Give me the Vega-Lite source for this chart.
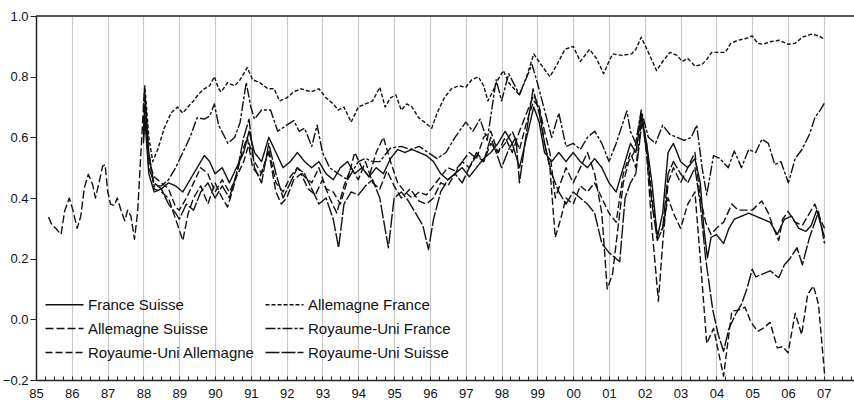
{
  "$schema": "https://vega.github.io/schema/vega-lite/v6.json",
  "width": 819,
  "height": 364,
  "padding": {"left": 2, "top": 10, "right": 0, "bottom": 0},
  "autosize": {"type": "pad"},
  "background": "white",
  "config": {
    "view": {"stroke": null},
    "font": "Liberation Sans",
    "axis": {"labelFont": "Liberation Sans", "labelColor": "#111", "domainColor": "#222", "tickColor": "#222"}
  },
  "datasets": {
    "s": [
      {"s": "Allemagne France", "t": 1988.0, "v": 0.70}, {"s": "Allemagne France", "t": 1988.04, "v": 0.77}, {"s": "Allemagne France", "t": 1988.15, "v": 0.60}, {"s": "Allemagne France", "t": 1988.26, "v": 0.52}, {"s": "Allemagne France", "t": 1988.4, "v": 0.56}, {"s": "Allemagne France", "t": 1988.58, "v": 0.63}, {"s": "Allemagne France", "t": 1988.77, "v": 0.68}, {"s": "Allemagne France", "t": 1988.95, "v": 0.70}, {"s": "Allemagne France", "t": 1989.1, "v": 0.68}, {"s": "Allemagne France", "t": 1989.24, "v": 0.70}, {"s": "Allemagne France", "t": 1989.4, "v": 0.72}, {"s": "Allemagne France", "t": 1989.52, "v": 0.74}, {"s": "Allemagne France", "t": 1989.7, "v": 0.76}, {"s": "Allemagne France", "t": 1989.85, "v": 0.77}, {"s": "Allemagne France", "t": 1989.98, "v": 0.80}, {"s": "Allemagne France", "t": 1990.1, "v": 0.76}, {"s": "Allemagne France", "t": 1990.17, "v": 0.75}, {"s": "Allemagne France", "t": 1990.35, "v": 0.78}, {"s": "Allemagne France", "t": 1990.55, "v": 0.77}, {"s": "Allemagne France", "t": 1990.7, "v": 0.79}, {"s": "Allemagne France", "t": 1990.9, "v": 0.83}, {"s": "Allemagne France", "t": 1991.05, "v": 0.79}, {"s": "Allemagne France", "t": 1991.25, "v": 0.78}, {"s": "Allemagne France", "t": 1991.48, "v": 0.76}, {"s": "Allemagne France", "t": 1991.65, "v": 0.76}, {"s": "Allemagne France", "t": 1991.8, "v": 0.72}, {"s": "Allemagne France", "t": 1992.0, "v": 0.73}, {"s": "Allemagne France", "t": 1992.2, "v": 0.75}, {"s": "Allemagne France", "t": 1992.4, "v": 0.76}, {"s": "Allemagne France", "t": 1992.69, "v": 0.75}, {"s": "Allemagne France", "t": 1992.9, "v": 0.76}, {"s": "Allemagne France", "t": 1993.1, "v": 0.73}, {"s": "Allemagne France", "t": 1993.3, "v": 0.71}, {"s": "Allemagne France", "t": 1993.44, "v": 0.69}, {"s": "Allemagne France", "t": 1993.6, "v": 0.70}, {"s": "Allemagne France", "t": 1993.8, "v": 0.65}, {"s": "Allemagne France", "t": 1994.0, "v": 0.70}, {"s": "Allemagne France", "t": 1994.2, "v": 0.71}, {"s": "Allemagne France", "t": 1994.4, "v": 0.72}, {"s": "Allemagne France", "t": 1994.6, "v": 0.765}, {"s": "Allemagne France", "t": 1994.75, "v": 0.70}, {"s": "Allemagne France", "t": 1994.9, "v": 0.73}, {"s": "Allemagne France", "t": 1995.05, "v": 0.74}, {"s": "Allemagne France", "t": 1995.2, "v": 0.69}, {"s": "Allemagne France", "t": 1995.35, "v": 0.71}, {"s": "Allemagne France", "t": 1995.5, "v": 0.70}, {"s": "Allemagne France", "t": 1995.68, "v": 0.665}, {"s": "Allemagne France", "t": 1995.85, "v": 0.65}, {"s": "Allemagne France", "t": 1996.05, "v": 0.63}, {"s": "Allemagne France", "t": 1996.2, "v": 0.68}, {"s": "Allemagne France", "t": 1996.4, "v": 0.73}, {"s": "Allemagne France", "t": 1996.6, "v": 0.76}, {"s": "Allemagne France", "t": 1996.8, "v": 0.77}, {"s": "Allemagne France", "t": 1997.0, "v": 0.765}, {"s": "Allemagne France", "t": 1997.17, "v": 0.79}, {"s": "Allemagne France", "t": 1997.35, "v": 0.80}, {"s": "Allemagne France", "t": 1997.5, "v": 0.77}, {"s": "Allemagne France", "t": 1997.62, "v": 0.72}, {"s": "Allemagne France", "t": 1997.75, "v": 0.75}, {"s": "Allemagne France", "t": 1997.9, "v": 0.79}, {"s": "Allemagne France", "t": 1998.05, "v": 0.82}, {"s": "Allemagne France", "t": 1998.2, "v": 0.78}, {"s": "Allemagne France", "t": 1998.35, "v": 0.76}, {"s": "Allemagne France", "t": 1998.5, "v": 0.74}, {"s": "Allemagne France", "t": 1998.7, "v": 0.80}, {"s": "Allemagne France", "t": 1998.9, "v": 0.875}, {"s": "Allemagne France", "t": 1999.1, "v": 0.84}, {"s": "Allemagne France", "t": 1999.35, "v": 0.80}, {"s": "Allemagne France", "t": 1999.55, "v": 0.84}, {"s": "Allemagne France", "t": 1999.77, "v": 0.89}, {"s": "Allemagne France", "t": 2000.0, "v": 0.90}, {"s": "Allemagne France", "t": 2000.2, "v": 0.85}, {"s": "Allemagne France", "t": 2000.46, "v": 0.89}, {"s": "Allemagne France", "t": 2000.65, "v": 0.86}, {"s": "Allemagne France", "t": 2000.85, "v": 0.81}, {"s": "Allemagne France", "t": 2001.0, "v": 0.85}, {"s": "Allemagne France", "t": 2001.1, "v": 0.875}, {"s": "Allemagne France", "t": 2001.35, "v": 0.87}, {"s": "Allemagne France", "t": 2001.63, "v": 0.875}, {"s": "Allemagne France", "t": 2001.75, "v": 0.89}, {"s": "Allemagne France", "t": 2001.9, "v": 0.93}, {"s": "Allemagne France", "t": 2002.1, "v": 0.88}, {"s": "Allemagne France", "t": 2002.33, "v": 0.82}, {"s": "Allemagne France", "t": 2002.5, "v": 0.85}, {"s": "Allemagne France", "t": 2002.7, "v": 0.88}, {"s": "Allemagne France", "t": 2002.9, "v": 0.87}, {"s": "Allemagne France", "t": 2003.05, "v": 0.85}, {"s": "Allemagne France", "t": 2003.2, "v": 0.86}, {"s": "Allemagne France", "t": 2003.4, "v": 0.835}, {"s": "Allemagne France", "t": 2003.6, "v": 0.84}, {"s": "Allemagne France", "t": 2003.75, "v": 0.86}, {"s": "Allemagne France", "t": 2003.87, "v": 0.88}, {"s": "Allemagne France", "t": 2004.05, "v": 0.88}, {"s": "Allemagne France", "t": 2004.25, "v": 0.88}, {"s": "Allemagne France", "t": 2004.4, "v": 0.91}, {"s": "Allemagne France", "t": 2004.6, "v": 0.92}, {"s": "Allemagne France", "t": 2004.8, "v": 0.925}, {"s": "Allemagne France", "t": 2005.0, "v": 0.934}, {"s": "Allemagne France", "t": 2005.15, "v": 0.91}, {"s": "Allemagne France", "t": 2005.3, "v": 0.907}, {"s": "Allemagne France", "t": 2005.5, "v": 0.915}, {"s": "Allemagne France", "t": 2005.75, "v": 0.92}, {"s": "Allemagne France", "t": 2006.0, "v": 0.907}, {"s": "Allemagne France", "t": 2006.2, "v": 0.91}, {"s": "Allemagne France", "t": 2006.4, "v": 0.93}, {"s": "Allemagne France", "t": 2006.65, "v": 0.94}, {"s": "Allemagne France", "t": 2006.85, "v": 0.935}, {"s": "Allemagne France", "t": 2007.02, "v": 0.923},

      {"s": "Royaume-Uni France", "t": 1988.0, "v": 0.62}, {"s": "Royaume-Uni France", "t": 1988.04, "v": 0.72}, {"s": "Royaume-Uni France", "t": 1988.15, "v": 0.55}, {"s": "Royaume-Uni France", "t": 1988.3, "v": 0.44}, {"s": "Royaume-Uni France", "t": 1988.5, "v": 0.44}, {"s": "Royaume-Uni France", "t": 1988.7, "v": 0.46}, {"s": "Royaume-Uni France", "t": 1988.9, "v": 0.50}, {"s": "Royaume-Uni France", "t": 1989.1, "v": 0.55}, {"s": "Royaume-Uni France", "t": 1989.3, "v": 0.60}, {"s": "Royaume-Uni France", "t": 1989.5, "v": 0.665}, {"s": "Royaume-Uni France", "t": 1989.7, "v": 0.66}, {"s": "Royaume-Uni France", "t": 1989.85, "v": 0.67}, {"s": "Royaume-Uni France", "t": 1989.98, "v": 0.71}, {"s": "Royaume-Uni France", "t": 1990.1, "v": 0.64}, {"s": "Royaume-Uni France", "t": 1990.36, "v": 0.58}, {"s": "Royaume-Uni France", "t": 1990.55, "v": 0.60}, {"s": "Royaume-Uni France", "t": 1990.7, "v": 0.65}, {"s": "Royaume-Uni France", "t": 1990.87, "v": 0.78}, {"s": "Royaume-Uni France", "t": 1991.0, "v": 0.70}, {"s": "Royaume-Uni France", "t": 1991.1, "v": 0.66}, {"s": "Royaume-Uni France", "t": 1991.3, "v": 0.69}, {"s": "Royaume-Uni France", "t": 1991.55, "v": 0.69}, {"s": "Royaume-Uni France", "t": 1991.75, "v": 0.62}, {"s": "Royaume-Uni France", "t": 1992.0, "v": 0.64}, {"s": "Royaume-Uni France", "t": 1992.2, "v": 0.655}, {"s": "Royaume-Uni France", "t": 1992.35, "v": 0.62}, {"s": "Royaume-Uni France", "t": 1992.5, "v": 0.63}, {"s": "Royaume-Uni France", "t": 1992.7, "v": 0.57}, {"s": "Royaume-Uni France", "t": 1992.85, "v": 0.64}, {"s": "Royaume-Uni France", "t": 1993.0, "v": 0.55}, {"s": "Royaume-Uni France", "t": 1993.2, "v": 0.50}, {"s": "Royaume-Uni France", "t": 1993.44, "v": 0.48}, {"s": "Royaume-Uni France", "t": 1993.7, "v": 0.46}, {"s": "Royaume-Uni France", "t": 1994.0, "v": 0.52}, {"s": "Royaume-Uni France", "t": 1994.2, "v": 0.53}, {"s": "Royaume-Uni France", "t": 1994.4, "v": 0.52}, {"s": "Royaume-Uni France", "t": 1994.6, "v": 0.52}, {"s": "Royaume-Uni France", "t": 1994.9, "v": 0.565}, {"s": "Royaume-Uni France", "t": 1995.2, "v": 0.57}, {"s": "Royaume-Uni France", "t": 1995.45, "v": 0.56}, {"s": "Royaume-Uni France", "t": 1995.7, "v": 0.57}, {"s": "Royaume-Uni France", "t": 1995.95, "v": 0.55}, {"s": "Royaume-Uni France", "t": 1996.2, "v": 0.53}, {"s": "Royaume-Uni France", "t": 1996.45, "v": 0.55}, {"s": "Royaume-Uni France", "t": 1996.7, "v": 0.60}, {"s": "Royaume-Uni France", "t": 1997.0, "v": 0.65}, {"s": "Royaume-Uni France", "t": 1997.2, "v": 0.62}, {"s": "Royaume-Uni France", "t": 1997.4, "v": 0.66}, {"s": "Royaume-Uni France", "t": 1997.6, "v": 0.59}, {"s": "Royaume-Uni France", "t": 1997.85, "v": 0.79}, {"s": "Royaume-Uni France", "t": 1998.0, "v": 0.72}, {"s": "Royaume-Uni France", "t": 1998.2, "v": 0.81}, {"s": "Royaume-Uni France", "t": 1998.5, "v": 0.74}, {"s": "Royaume-Uni France", "t": 1998.85, "v": 0.84}, {"s": "Royaume-Uni France", "t": 1999.0, "v": 0.78}, {"s": "Royaume-Uni France", "t": 1999.2, "v": 0.69}, {"s": "Royaume-Uni France", "t": 1999.4, "v": 0.60}, {"s": "Royaume-Uni France", "t": 1999.6, "v": 0.68}, {"s": "Royaume-Uni France", "t": 1999.8, "v": 0.57}, {"s": "Royaume-Uni France", "t": 2000.0, "v": 0.58}, {"s": "Royaume-Uni France", "t": 2000.2, "v": 0.56}, {"s": "Royaume-Uni France", "t": 2000.4, "v": 0.60}, {"s": "Royaume-Uni France", "t": 2000.6, "v": 0.62}, {"s": "Royaume-Uni France", "t": 2000.8, "v": 0.58}, {"s": "Royaume-Uni France", "t": 2001.0, "v": 0.52}, {"s": "Royaume-Uni France", "t": 2001.2, "v": 0.58}, {"s": "Royaume-Uni France", "t": 2001.5, "v": 0.687}, {"s": "Royaume-Uni France", "t": 2001.6, "v": 0.62}, {"s": "Royaume-Uni France", "t": 2001.75, "v": 0.58}, {"s": "Royaume-Uni France", "t": 2001.9, "v": 0.69}, {"s": "Royaume-Uni France", "t": 2002.1, "v": 0.60}, {"s": "Royaume-Uni France", "t": 2002.3, "v": 0.58}, {"s": "Royaume-Uni France", "t": 2002.5, "v": 0.64}, {"s": "Royaume-Uni France", "t": 2002.7, "v": 0.61}, {"s": "Royaume-Uni France", "t": 2002.9, "v": 0.60}, {"s": "Royaume-Uni France", "t": 2003.1, "v": 0.59}, {"s": "Royaume-Uni France", "t": 2003.3, "v": 0.60}, {"s": "Royaume-Uni France", "t": 2003.45, "v": 0.64}, {"s": "Royaume-Uni France", "t": 2003.6, "v": 0.50}, {"s": "Royaume-Uni France", "t": 2003.73, "v": 0.41}, {"s": "Royaume-Uni France", "t": 2003.92, "v": 0.54}, {"s": "Royaume-Uni France", "t": 2004.1, "v": 0.53}, {"s": "Royaume-Uni France", "t": 2004.33, "v": 0.50}, {"s": "Royaume-Uni France", "t": 2004.5, "v": 0.555}, {"s": "Royaume-Uni France", "t": 2004.7, "v": 0.50}, {"s": "Royaume-Uni France", "t": 2004.9, "v": 0.56}, {"s": "Royaume-Uni France", "t": 2005.1, "v": 0.55}, {"s": "Royaume-Uni France", "t": 2005.27, "v": 0.594}, {"s": "Royaume-Uni France", "t": 2005.45, "v": 0.58}, {"s": "Royaume-Uni France", "t": 2005.63, "v": 0.51}, {"s": "Royaume-Uni France", "t": 2005.8, "v": 0.52}, {"s": "Royaume-Uni France", "t": 2006.01, "v": 0.45}, {"s": "Royaume-Uni France", "t": 2006.2, "v": 0.53}, {"s": "Royaume-Uni France", "t": 2006.39, "v": 0.56}, {"s": "Royaume-Uni France", "t": 2006.6, "v": 0.61}, {"s": "Royaume-Uni France", "t": 2006.75, "v": 0.665}, {"s": "Royaume-Uni France", "t": 2006.9, "v": 0.69}, {"s": "Royaume-Uni France", "t": 2007.02, "v": 0.714},

      {"s": "Allemagne Suisse", "t": 1985.35, "v": 0.337}, {"s": "Allemagne Suisse", "t": 1985.45, "v": 0.31}, {"s": "Allemagne Suisse", "t": 1985.55, "v": 0.30}, {"s": "Allemagne Suisse", "t": 1985.7, "v": 0.28}, {"s": "Allemagne Suisse", "t": 1985.8, "v": 0.357}, {"s": "Allemagne Suisse", "t": 1985.93, "v": 0.40}, {"s": "Allemagne Suisse", "t": 1986.03, "v": 0.36}, {"s": "Allemagne Suisse", "t": 1986.15, "v": 0.30}, {"s": "Allemagne Suisse", "t": 1986.25, "v": 0.34}, {"s": "Allemagne Suisse", "t": 1986.35, "v": 0.434}, {"s": "Allemagne Suisse", "t": 1986.46, "v": 0.478}, {"s": "Allemagne Suisse", "t": 1986.58, "v": 0.445}, {"s": "Allemagne Suisse", "t": 1986.66, "v": 0.40}, {"s": "Allemagne Suisse", "t": 1986.77, "v": 0.456}, {"s": "Allemagne Suisse", "t": 1986.86, "v": 0.505}, {"s": "Allemagne Suisse", "t": 1986.93, "v": 0.51}, {"s": "Allemagne Suisse", "t": 1987.0, "v": 0.423}, {"s": "Allemagne Suisse", "t": 1987.08, "v": 0.38}, {"s": "Allemagne Suisse", "t": 1987.19, "v": 0.375}, {"s": "Allemagne Suisse", "t": 1987.27, "v": 0.40}, {"s": "Allemagne Suisse", "t": 1987.38, "v": 0.357}, {"s": "Allemagne Suisse", "t": 1987.48, "v": 0.325}, {"s": "Allemagne Suisse", "t": 1987.56, "v": 0.36}, {"s": "Allemagne Suisse", "t": 1987.65, "v": 0.34}, {"s": "Allemagne Suisse", "t": 1987.75, "v": 0.264}, {"s": "Allemagne Suisse", "t": 1987.84, "v": 0.357}, {"s": "Allemagne Suisse", "t": 1987.92, "v": 0.53}, {"s": "Allemagne Suisse", "t": 1988.03, "v": 0.76}, {"s": "Allemagne Suisse", "t": 1988.15, "v": 0.55}, {"s": "Allemagne Suisse", "t": 1988.3, "v": 0.43}, {"s": "Allemagne Suisse", "t": 1988.5, "v": 0.42}, {"s": "Allemagne Suisse", "t": 1988.7, "v": 0.40}, {"s": "Allemagne Suisse", "t": 1988.9, "v": 0.33}, {"s": "Allemagne Suisse", "t": 1989.1, "v": 0.26}, {"s": "Allemagne Suisse", "t": 1989.25, "v": 0.35}, {"s": "Allemagne Suisse", "t": 1989.4, "v": 0.40}, {"s": "Allemagne Suisse", "t": 1989.6, "v": 0.44}, {"s": "Allemagne Suisse", "t": 1989.8, "v": 0.38}, {"s": "Allemagne Suisse", "t": 1990.0, "v": 0.45}, {"s": "Allemagne Suisse", "t": 1990.2, "v": 0.40}, {"s": "Allemagne Suisse", "t": 1990.35, "v": 0.37}, {"s": "Allemagne Suisse", "t": 1990.55, "v": 0.45}, {"s": "Allemagne Suisse", "t": 1990.75, "v": 0.55}, {"s": "Allemagne Suisse", "t": 1990.9, "v": 0.60}, {"s": "Allemagne Suisse", "t": 1991.05, "v": 0.50}, {"s": "Allemagne Suisse", "t": 1991.25, "v": 0.47}, {"s": "Allemagne Suisse", "t": 1991.5, "v": 0.55}, {"s": "Allemagne Suisse", "t": 1991.7, "v": 0.42}, {"s": "Allemagne Suisse", "t": 1991.85, "v": 0.38}, {"s": "Allemagne Suisse", "t": 1992.0, "v": 0.40}, {"s": "Allemagne Suisse", "t": 1992.2, "v": 0.46}, {"s": "Allemagne Suisse", "t": 1992.4, "v": 0.48}, {"s": "Allemagne Suisse", "t": 1992.6, "v": 0.43}, {"s": "Allemagne Suisse", "t": 1992.8, "v": 0.41}, {"s": "Allemagne Suisse", "t": 1993.0, "v": 0.46}, {"s": "Allemagne Suisse", "t": 1993.2, "v": 0.40}, {"s": "Allemagne Suisse", "t": 1993.4, "v": 0.35}, {"s": "Allemagne Suisse", "t": 1993.6, "v": 0.44}, {"s": "Allemagne Suisse", "t": 1993.8, "v": 0.50}, {"s": "Allemagne Suisse", "t": 1994.0, "v": 0.46}, {"s": "Allemagne Suisse", "t": 1994.2, "v": 0.52}, {"s": "Allemagne Suisse", "t": 1994.4, "v": 0.45}, {"s": "Allemagne Suisse", "t": 1994.6, "v": 0.43}, {"s": "Allemagne Suisse", "t": 1994.8, "v": 0.49}, {"s": "Allemagne Suisse", "t": 1995.0, "v": 0.44}, {"s": "Allemagne Suisse", "t": 1995.2, "v": 0.40}, {"s": "Allemagne Suisse", "t": 1995.45, "v": 0.43}, {"s": "Allemagne Suisse", "t": 1995.7, "v": 0.39}, {"s": "Allemagne Suisse", "t": 1995.9, "v": 0.38}, {"s": "Allemagne Suisse", "t": 1996.1, "v": 0.40}, {"s": "Allemagne Suisse", "t": 1996.3, "v": 0.45}, {"s": "Allemagne Suisse", "t": 1996.5, "v": 0.44}, {"s": "Allemagne Suisse", "t": 1996.7, "v": 0.48}, {"s": "Allemagne Suisse", "t": 1996.9, "v": 0.52}, {"s": "Allemagne Suisse", "t": 1997.1, "v": 0.50}, {"s": "Allemagne Suisse", "t": 1997.3, "v": 0.54}, {"s": "Allemagne Suisse", "t": 1997.5, "v": 0.52}, {"s": "Allemagne Suisse", "t": 1997.7, "v": 0.58}, {"s": "Allemagne Suisse", "t": 1997.9, "v": 0.55}, {"s": "Allemagne Suisse", "t": 1998.1, "v": 0.60}, {"s": "Allemagne Suisse", "t": 1998.3, "v": 0.55}, {"s": "Allemagne Suisse", "t": 1998.5, "v": 0.62}, {"s": "Allemagne Suisse", "t": 1998.7, "v": 0.68}, {"s": "Allemagne Suisse", "t": 1998.9, "v": 0.74}, {"s": "Allemagne Suisse", "t": 1999.05, "v": 0.70}, {"s": "Allemagne Suisse", "t": 1999.2, "v": 0.62}, {"s": "Allemagne Suisse", "t": 1999.35, "v": 0.55}, {"s": "Allemagne Suisse", "t": 1999.5, "v": 0.40}, {"s": "Allemagne Suisse", "t": 1999.65, "v": 0.45}, {"s": "Allemagne Suisse", "t": 1999.8, "v": 0.50}, {"s": "Allemagne Suisse", "t": 2000.0, "v": 0.45}, {"s": "Allemagne Suisse", "t": 2000.2, "v": 0.50}, {"s": "Allemagne Suisse", "t": 2000.4, "v": 0.55}, {"s": "Allemagne Suisse", "t": 2000.6, "v": 0.48}, {"s": "Allemagne Suisse", "t": 2000.8, "v": 0.35}, {"s": "Allemagne Suisse", "t": 2000.95, "v": 0.10}, {"s": "Allemagne Suisse", "t": 2001.1, "v": 0.15}, {"s": "Allemagne Suisse", "t": 2001.25, "v": 0.30}, {"s": "Allemagne Suisse", "t": 2001.4, "v": 0.45}, {"s": "Allemagne Suisse", "t": 2001.55, "v": 0.52}, {"s": "Allemagne Suisse", "t": 2001.7, "v": 0.55}, {"s": "Allemagne Suisse", "t": 2001.9, "v": 0.68}, {"s": "Allemagne Suisse", "t": 2002.05, "v": 0.55}, {"s": "Allemagne Suisse", "t": 2002.2, "v": 0.30}, {"s": "Allemagne Suisse", "t": 2002.38, "v": 0.06}, {"s": "Allemagne Suisse", "t": 2002.5, "v": 0.25}, {"s": "Allemagne Suisse", "t": 2002.65, "v": 0.45}, {"s": "Allemagne Suisse", "t": 2002.8, "v": 0.50}, {"s": "Allemagne Suisse", "t": 2003.0, "v": 0.45}, {"s": "Allemagne Suisse", "t": 2003.2, "v": 0.50}, {"s": "Allemagne Suisse", "t": 2003.4, "v": 0.55}, {"s": "Allemagne Suisse", "t": 2003.55, "v": 0.40}, {"s": "Allemagne Suisse", "t": 2003.7, "v": 0.32}, {"s": "Allemagne Suisse", "t": 2003.85, "v": 0.28}, {"s": "Allemagne Suisse", "t": 2004.0, "v": 0.30}, {"s": "Allemagne Suisse", "t": 2004.2, "v": 0.32}, {"s": "Allemagne Suisse", "t": 2004.43, "v": 0.38}, {"s": "Allemagne Suisse", "t": 2004.6, "v": 0.36}, {"s": "Allemagne Suisse", "t": 2004.8, "v": 0.36}, {"s": "Allemagne Suisse", "t": 2005.0, "v": 0.36}, {"s": "Allemagne Suisse", "t": 2005.27, "v": 0.39}, {"s": "Allemagne Suisse", "t": 2005.45, "v": 0.35}, {"s": "Allemagne Suisse", "t": 2005.6, "v": 0.30}, {"s": "Allemagne Suisse", "t": 2005.74, "v": 0.26}, {"s": "Allemagne Suisse", "t": 2005.85, "v": 0.33}, {"s": "Allemagne Suisse", "t": 2006.0, "v": 0.356}, {"s": "Allemagne Suisse", "t": 2006.2, "v": 0.32}, {"s": "Allemagne Suisse", "t": 2006.4, "v": 0.31}, {"s": "Allemagne Suisse", "t": 2006.6, "v": 0.35}, {"s": "Allemagne Suisse", "t": 2006.75, "v": 0.38}, {"s": "Allemagne Suisse", "t": 2006.9, "v": 0.33}, {"s": "Allemagne Suisse", "t": 2007.02, "v": 0.30},

      {"s": "Royaume-Uni Allemagne", "t": 1988.0, "v": 0.65}, {"s": "Royaume-Uni Allemagne", "t": 1988.04, "v": 0.74}, {"s": "Royaume-Uni Allemagne", "t": 1988.15, "v": 0.52}, {"s": "Royaume-Uni Allemagne", "t": 1988.3, "v": 0.47}, {"s": "Royaume-Uni Allemagne", "t": 1988.5, "v": 0.45}, {"s": "Royaume-Uni Allemagne", "t": 1988.7, "v": 0.43}, {"s": "Royaume-Uni Allemagne", "t": 1988.9, "v": 0.37}, {"s": "Royaume-Uni Allemagne", "t": 1989.0, "v": 0.36}, {"s": "Royaume-Uni Allemagne", "t": 1989.2, "v": 0.40}, {"s": "Royaume-Uni Allemagne", "t": 1989.4, "v": 0.45}, {"s": "Royaume-Uni Allemagne", "t": 1989.6, "v": 0.50}, {"s": "Royaume-Uni Allemagne", "t": 1989.8, "v": 0.48}, {"s": "Royaume-Uni Allemagne", "t": 1990.0, "v": 0.42}, {"s": "Royaume-Uni Allemagne", "t": 1990.2, "v": 0.46}, {"s": "Royaume-Uni Allemagne", "t": 1990.4, "v": 0.42}, {"s": "Royaume-Uni Allemagne", "t": 1990.6, "v": 0.47}, {"s": "Royaume-Uni Allemagne", "t": 1990.8, "v": 0.52}, {"s": "Royaume-Uni Allemagne", "t": 1990.95, "v": 0.58}, {"s": "Royaume-Uni Allemagne", "t": 1991.1, "v": 0.52}, {"s": "Royaume-Uni Allemagne", "t": 1991.3, "v": 0.48}, {"s": "Royaume-Uni Allemagne", "t": 1991.5, "v": 0.56}, {"s": "Royaume-Uni Allemagne", "t": 1991.7, "v": 0.45}, {"s": "Royaume-Uni Allemagne", "t": 1991.9, "v": 0.42}, {"s": "Royaume-Uni Allemagne", "t": 1992.1, "v": 0.47}, {"s": "Royaume-Uni Allemagne", "t": 1992.3, "v": 0.50}, {"s": "Royaume-Uni Allemagne", "t": 1992.5, "v": 0.47}, {"s": "Royaume-Uni Allemagne", "t": 1992.7, "v": 0.45}, {"s": "Royaume-Uni Allemagne", "t": 1992.9, "v": 0.50}, {"s": "Royaume-Uni Allemagne", "t": 1993.1, "v": 0.43}, {"s": "Royaume-Uni Allemagne", "t": 1993.3, "v": 0.42}, {"s": "Royaume-Uni Allemagne", "t": 1993.5, "v": 0.38}, {"s": "Royaume-Uni Allemagne", "t": 1993.7, "v": 0.46}, {"s": "Royaume-Uni Allemagne", "t": 1993.9, "v": 0.55}, {"s": "Royaume-Uni Allemagne", "t": 1994.1, "v": 0.50}, {"s": "Royaume-Uni Allemagne", "t": 1994.3, "v": 0.47}, {"s": "Royaume-Uni Allemagne", "t": 1994.5, "v": 0.55}, {"s": "Royaume-Uni Allemagne", "t": 1994.7, "v": 0.60}, {"s": "Royaume-Uni Allemagne", "t": 1994.9, "v": 0.52}, {"s": "Royaume-Uni Allemagne", "t": 1995.1, "v": 0.45}, {"s": "Royaume-Uni Allemagne", "t": 1995.3, "v": 0.42}, {"s": "Royaume-Uni Allemagne", "t": 1995.5, "v": 0.40}, {"s": "Royaume-Uni Allemagne", "t": 1995.7, "v": 0.42}, {"s": "Royaume-Uni Allemagne", "t": 1995.9, "v": 0.41}, {"s": "Royaume-Uni Allemagne", "t": 1996.1, "v": 0.44}, {"s": "Royaume-Uni Allemagne", "t": 1996.3, "v": 0.47}, {"s": "Royaume-Uni Allemagne", "t": 1996.5, "v": 0.50}, {"s": "Royaume-Uni Allemagne", "t": 1996.7, "v": 0.49}, {"s": "Royaume-Uni Allemagne", "t": 1996.9, "v": 0.52}, {"s": "Royaume-Uni Allemagne", "t": 1997.1, "v": 0.55}, {"s": "Royaume-Uni Allemagne", "t": 1997.3, "v": 0.53}, {"s": "Royaume-Uni Allemagne", "t": 1997.5, "v": 0.60}, {"s": "Royaume-Uni Allemagne", "t": 1997.7, "v": 0.62}, {"s": "Royaume-Uni Allemagne", "t": 1997.9, "v": 0.55}, {"s": "Royaume-Uni Allemagne", "t": 1998.1, "v": 0.58}, {"s": "Royaume-Uni Allemagne", "t": 1998.3, "v": 0.62}, {"s": "Royaume-Uni Allemagne", "t": 1998.5, "v": 0.56}, {"s": "Royaume-Uni Allemagne", "t": 1998.7, "v": 0.65}, {"s": "Royaume-Uni Allemagne", "t": 1998.9, "v": 0.72}, {"s": "Royaume-Uni Allemagne", "t": 1999.05, "v": 0.70}, {"s": "Royaume-Uni Allemagne", "t": 1999.2, "v": 0.58}, {"s": "Royaume-Uni Allemagne", "t": 1999.35, "v": 0.50}, {"s": "Royaume-Uni Allemagne", "t": 1999.5, "v": 0.27}, {"s": "Royaume-Uni Allemagne", "t": 1999.65, "v": 0.33}, {"s": "Royaume-Uni Allemagne", "t": 1999.8, "v": 0.40}, {"s": "Royaume-Uni Allemagne", "t": 2000.0, "v": 0.38}, {"s": "Royaume-Uni Allemagne", "t": 2000.2, "v": 0.44}, {"s": "Royaume-Uni Allemagne", "t": 2000.4, "v": 0.42}, {"s": "Royaume-Uni Allemagne", "t": 2000.6, "v": 0.45}, {"s": "Royaume-Uni Allemagne", "t": 2000.8, "v": 0.40}, {"s": "Royaume-Uni Allemagne", "t": 2001.0, "v": 0.35}, {"s": "Royaume-Uni Allemagne", "t": 2001.2, "v": 0.32}, {"s": "Royaume-Uni Allemagne", "t": 2001.4, "v": 0.48}, {"s": "Royaume-Uni Allemagne", "t": 2001.6, "v": 0.55}, {"s": "Royaume-Uni Allemagne", "t": 2001.75, "v": 0.50}, {"s": "Royaume-Uni Allemagne", "t": 2001.92, "v": 0.67}, {"s": "Royaume-Uni Allemagne", "t": 2002.05, "v": 0.58}, {"s": "Royaume-Uni Allemagne", "t": 2002.2, "v": 0.40}, {"s": "Royaume-Uni Allemagne", "t": 2002.35, "v": 0.28}, {"s": "Royaume-Uni Allemagne", "t": 2002.5, "v": 0.30}, {"s": "Royaume-Uni Allemagne", "t": 2002.65, "v": 0.40}, {"s": "Royaume-Uni Allemagne", "t": 2002.8, "v": 0.35}, {"s": "Royaume-Uni Allemagne", "t": 2003.0, "v": 0.30}, {"s": "Royaume-Uni Allemagne", "t": 2003.2, "v": 0.38}, {"s": "Royaume-Uni Allemagne", "t": 2003.4, "v": 0.42}, {"s": "Royaume-Uni Allemagne", "t": 2003.55, "v": 0.20}, {"s": "Royaume-Uni Allemagne", "t": 2003.73, "v": -0.08}, {"s": "Royaume-Uni Allemagne", "t": 2003.92, "v": -0.03}, {"s": "Royaume-Uni Allemagne", "t": 2004.2, "v": -0.187}, {"s": "Royaume-Uni Allemagne", "t": 2004.43, "v": 0.027}, {"s": "Royaume-Uni Allemagne", "t": 2004.6, "v": 0.03}, {"s": "Royaume-Uni Allemagne", "t": 2004.8, "v": 0.04}, {"s": "Royaume-Uni Allemagne", "t": 2004.95, "v": -0.006}, {"s": "Royaume-Uni Allemagne", "t": 2005.15, "v": -0.04}, {"s": "Royaume-Uni Allemagne", "t": 2005.3, "v": -0.03}, {"s": "Royaume-Uni Allemagne", "t": 2005.5, "v": -0.01}, {"s": "Royaume-Uni Allemagne", "t": 2005.7, "v": -0.094}, {"s": "Royaume-Uni Allemagne", "t": 2005.85, "v": -0.09}, {"s": "Royaume-Uni Allemagne", "t": 2006.0, "v": -0.11}, {"s": "Royaume-Uni Allemagne", "t": 2006.2, "v": 0.02}, {"s": "Royaume-Uni Allemagne", "t": 2006.38, "v": -0.05}, {"s": "Royaume-Uni Allemagne", "t": 2006.55, "v": 0.083}, {"s": "Royaume-Uni Allemagne", "t": 2006.71, "v": 0.11}, {"s": "Royaume-Uni Allemagne", "t": 2006.85, "v": 0.05}, {"s": "Royaume-Uni Allemagne", "t": 2007.02, "v": -0.18},

      {"s": "Royaume-Uni Suisse", "t": 1988.0, "v": 0.60}, {"s": "Royaume-Uni Suisse", "t": 1988.04, "v": 0.68}, {"s": "Royaume-Uni Suisse", "t": 1988.15, "v": 0.50}, {"s": "Royaume-Uni Suisse", "t": 1988.3, "v": 0.45}, {"s": "Royaume-Uni Suisse", "t": 1988.5, "v": 0.43}, {"s": "Royaume-Uni Suisse", "t": 1988.7, "v": 0.38}, {"s": "Royaume-Uni Suisse", "t": 1988.9, "v": 0.35}, {"s": "Royaume-Uni Suisse", "t": 1989.0, "v": 0.33}, {"s": "Royaume-Uni Suisse", "t": 1989.2, "v": 0.38}, {"s": "Royaume-Uni Suisse", "t": 1989.4, "v": 0.36}, {"s": "Royaume-Uni Suisse", "t": 1989.6, "v": 0.42}, {"s": "Royaume-Uni Suisse", "t": 1989.8, "v": 0.45}, {"s": "Royaume-Uni Suisse", "t": 1990.0, "v": 0.40}, {"s": "Royaume-Uni Suisse", "t": 1990.2, "v": 0.44}, {"s": "Royaume-Uni Suisse", "t": 1990.4, "v": 0.40}, {"s": "Royaume-Uni Suisse", "t": 1990.6, "v": 0.48}, {"s": "Royaume-Uni Suisse", "t": 1990.8, "v": 0.60}, {"s": "Royaume-Uni Suisse", "t": 1990.95, "v": 0.66}, {"s": "Royaume-Uni Suisse", "t": 1991.1, "v": 0.50}, {"s": "Royaume-Uni Suisse", "t": 1991.3, "v": 0.45}, {"s": "Royaume-Uni Suisse", "t": 1991.5, "v": 0.58}, {"s": "Royaume-Uni Suisse", "t": 1991.7, "v": 0.48}, {"s": "Royaume-Uni Suisse", "t": 1991.9, "v": 0.40}, {"s": "Royaume-Uni Suisse", "t": 1992.1, "v": 0.45}, {"s": "Royaume-Uni Suisse", "t": 1992.3, "v": 0.50}, {"s": "Royaume-Uni Suisse", "t": 1992.5, "v": 0.48}, {"s": "Royaume-Uni Suisse", "t": 1992.7, "v": 0.43}, {"s": "Royaume-Uni Suisse", "t": 1992.9, "v": 0.38}, {"s": "Royaume-Uni Suisse", "t": 1993.1, "v": 0.40}, {"s": "Royaume-Uni Suisse", "t": 1993.3, "v": 0.33}, {"s": "Royaume-Uni Suisse", "t": 1993.45, "v": 0.236}, {"s": "Royaume-Uni Suisse", "t": 1993.6, "v": 0.38}, {"s": "Royaume-Uni Suisse", "t": 1993.8, "v": 0.42}, {"s": "Royaume-Uni Suisse", "t": 1994.0, "v": 0.41}, {"s": "Royaume-Uni Suisse", "t": 1994.2, "v": 0.44}, {"s": "Royaume-Uni Suisse", "t": 1994.4, "v": 0.46}, {"s": "Royaume-Uni Suisse", "t": 1994.6, "v": 0.40}, {"s": "Royaume-Uni Suisse", "t": 1994.84, "v": 0.236}, {"s": "Royaume-Uni Suisse", "t": 1995.0, "v": 0.40}, {"s": "Royaume-Uni Suisse", "t": 1995.2, "v": 0.42}, {"s": "Royaume-Uni Suisse", "t": 1995.4, "v": 0.39}, {"s": "Royaume-Uni Suisse", "t": 1995.6, "v": 0.35}, {"s": "Royaume-Uni Suisse", "t": 1995.8, "v": 0.31}, {"s": "Royaume-Uni Suisse", "t": 1995.96, "v": 0.23}, {"s": "Royaume-Uni Suisse", "t": 1996.1, "v": 0.33}, {"s": "Royaume-Uni Suisse", "t": 1996.3, "v": 0.42}, {"s": "Royaume-Uni Suisse", "t": 1996.5, "v": 0.46}, {"s": "Royaume-Uni Suisse", "t": 1996.7, "v": 0.48}, {"s": "Royaume-Uni Suisse", "t": 1996.9, "v": 0.45}, {"s": "Royaume-Uni Suisse", "t": 1997.1, "v": 0.50}, {"s": "Royaume-Uni Suisse", "t": 1997.3, "v": 0.55}, {"s": "Royaume-Uni Suisse", "t": 1997.5, "v": 0.52}, {"s": "Royaume-Uni Suisse", "t": 1997.7, "v": 0.60}, {"s": "Royaume-Uni Suisse", "t": 1997.85, "v": 0.55}, {"s": "Royaume-Uni Suisse", "t": 1998.0, "v": 0.50}, {"s": "Royaume-Uni Suisse", "t": 1998.2, "v": 0.56}, {"s": "Royaume-Uni Suisse", "t": 1998.4, "v": 0.60}, {"s": "Royaume-Uni Suisse", "t": 1998.5, "v": 0.45}, {"s": "Royaume-Uni Suisse", "t": 1998.7, "v": 0.62}, {"s": "Royaume-Uni Suisse", "t": 1998.88, "v": 0.76}, {"s": "Royaume-Uni Suisse", "t": 1999.05, "v": 0.68}, {"s": "Royaume-Uni Suisse", "t": 1999.2, "v": 0.58}, {"s": "Royaume-Uni Suisse", "t": 1999.4, "v": 0.48}, {"s": "Royaume-Uni Suisse", "t": 1999.6, "v": 0.42}, {"s": "Royaume-Uni Suisse", "t": 1999.8, "v": 0.38}, {"s": "Royaume-Uni Suisse", "t": 2000.0, "v": 0.42}, {"s": "Royaume-Uni Suisse", "t": 2000.2, "v": 0.40}, {"s": "Royaume-Uni Suisse", "t": 2000.4, "v": 0.38}, {"s": "Royaume-Uni Suisse", "t": 2000.6, "v": 0.35}, {"s": "Royaume-Uni Suisse", "t": 2000.8, "v": 0.25}, {"s": "Royaume-Uni Suisse", "t": 2001.0, "v": 0.22}, {"s": "Royaume-Uni Suisse", "t": 2001.2, "v": 0.20}, {"s": "Royaume-Uni Suisse", "t": 2001.3, "v": 0.19}, {"s": "Royaume-Uni Suisse", "t": 2001.45, "v": 0.40}, {"s": "Royaume-Uni Suisse", "t": 2001.6, "v": 0.45}, {"s": "Royaume-Uni Suisse", "t": 2001.75, "v": 0.48}, {"s": "Royaume-Uni Suisse", "t": 2001.93, "v": 0.66}, {"s": "Royaume-Uni Suisse", "t": 2002.05, "v": 0.55}, {"s": "Royaume-Uni Suisse", "t": 2002.2, "v": 0.38}, {"s": "Royaume-Uni Suisse", "t": 2002.35, "v": 0.26}, {"s": "Royaume-Uni Suisse", "t": 2002.5, "v": 0.30}, {"s": "Royaume-Uni Suisse", "t": 2002.65, "v": 0.48}, {"s": "Royaume-Uni Suisse", "t": 2002.8, "v": 0.52}, {"s": "Royaume-Uni Suisse", "t": 2003.0, "v": 0.48}, {"s": "Royaume-Uni Suisse", "t": 2003.2, "v": 0.45}, {"s": "Royaume-Uni Suisse", "t": 2003.4, "v": 0.50}, {"s": "Royaume-Uni Suisse", "t": 2003.55, "v": 0.38}, {"s": "Royaume-Uni Suisse", "t": 2003.7, "v": 0.20}, {"s": "Royaume-Uni Suisse", "t": 2003.9, "v": 0.03}, {"s": "Royaume-Uni Suisse", "t": 2004.05, "v": -0.05}, {"s": "Royaume-Uni Suisse", "t": 2004.2, "v": -0.105}, {"s": "Royaume-Uni Suisse", "t": 2004.35, "v": -0.03}, {"s": "Royaume-Uni Suisse", "t": 2004.55, "v": 0.02}, {"s": "Royaume-Uni Suisse", "t": 2004.7, "v": 0.05}, {"s": "Royaume-Uni Suisse", "t": 2004.85, "v": 0.10}, {"s": "Royaume-Uni Suisse", "t": 2005.0, "v": 0.165}, {"s": "Royaume-Uni Suisse", "t": 2005.1, "v": 0.14}, {"s": "Royaume-Uni Suisse", "t": 2005.3, "v": 0.15}, {"s": "Royaume-Uni Suisse", "t": 2005.5, "v": 0.16}, {"s": "Royaume-Uni Suisse", "t": 2005.74, "v": 0.137}, {"s": "Royaume-Uni Suisse", "t": 2005.9, "v": 0.18}, {"s": "Royaume-Uni Suisse", "t": 2006.05, "v": 0.20}, {"s": "Royaume-Uni Suisse", "t": 2006.25, "v": 0.236}, {"s": "Royaume-Uni Suisse", "t": 2006.4, "v": 0.18}, {"s": "Royaume-Uni Suisse", "t": 2006.6, "v": 0.27}, {"s": "Royaume-Uni Suisse", "t": 2006.75, "v": 0.32}, {"s": "Royaume-Uni Suisse", "t": 2006.85, "v": 0.356}, {"s": "Royaume-Uni Suisse", "t": 2007.02, "v": 0.25},

      {"s": "France Suisse", "t": 1988.0, "v": 0.58}, {"s": "France Suisse", "t": 1988.04, "v": 0.66}, {"s": "France Suisse", "t": 1988.15, "v": 0.48}, {"s": "France Suisse", "t": 1988.3, "v": 0.42}, {"s": "France Suisse", "t": 1988.5, "v": 0.43}, {"s": "France Suisse", "t": 1988.7, "v": 0.45}, {"s": "France Suisse", "t": 1988.9, "v": 0.44}, {"s": "France Suisse", "t": 1989.1, "v": 0.42}, {"s": "France Suisse", "t": 1989.3, "v": 0.46}, {"s": "France Suisse", "t": 1989.5, "v": 0.50}, {"s": "France Suisse", "t": 1989.7, "v": 0.54}, {"s": "France Suisse", "t": 1989.85, "v": 0.52}, {"s": "France Suisse", "t": 1990.0, "v": 0.48}, {"s": "France Suisse", "t": 1990.2, "v": 0.50}, {"s": "France Suisse", "t": 1990.4, "v": 0.45}, {"s": "France Suisse", "t": 1990.6, "v": 0.50}, {"s": "France Suisse", "t": 1990.8, "v": 0.55}, {"s": "France Suisse", "t": 1990.95, "v": 0.62}, {"s": "France Suisse", "t": 1991.1, "v": 0.55}, {"s": "France Suisse", "t": 1991.3, "v": 0.52}, {"s": "France Suisse", "t": 1991.5, "v": 0.60}, {"s": "France Suisse", "t": 1991.7, "v": 0.55}, {"s": "France Suisse", "t": 1991.9, "v": 0.50}, {"s": "France Suisse", "t": 1992.1, "v": 0.52}, {"s": "France Suisse", "t": 1992.3, "v": 0.55}, {"s": "France Suisse", "t": 1992.5, "v": 0.52}, {"s": "France Suisse", "t": 1992.7, "v": 0.50}, {"s": "France Suisse", "t": 1992.9, "v": 0.52}, {"s": "France Suisse", "t": 1993.1, "v": 0.48}, {"s": "France Suisse", "t": 1993.3, "v": 0.46}, {"s": "France Suisse", "t": 1993.5, "v": 0.50}, {"s": "France Suisse", "t": 1993.7, "v": 0.52}, {"s": "France Suisse", "t": 1993.9, "v": 0.48}, {"s": "France Suisse", "t": 1994.1, "v": 0.50}, {"s": "France Suisse", "t": 1994.3, "v": 0.47}, {"s": "France Suisse", "t": 1994.5, "v": 0.50}, {"s": "France Suisse", "t": 1994.7, "v": 0.48}, {"s": "France Suisse", "t": 1994.9, "v": 0.53}, {"s": "France Suisse", "t": 1995.1, "v": 0.56}, {"s": "France Suisse", "t": 1995.3, "v": 0.55}, {"s": "France Suisse", "t": 1995.5, "v": 0.56}, {"s": "France Suisse", "t": 1995.7, "v": 0.55}, {"s": "France Suisse", "t": 1995.9, "v": 0.54}, {"s": "France Suisse", "t": 1996.1, "v": 0.52}, {"s": "France Suisse", "t": 1996.3, "v": 0.48}, {"s": "France Suisse", "t": 1996.5, "v": 0.46}, {"s": "France Suisse", "t": 1996.7, "v": 0.48}, {"s": "France Suisse", "t": 1996.9, "v": 0.50}, {"s": "France Suisse", "t": 1997.1, "v": 0.47}, {"s": "France Suisse", "t": 1997.3, "v": 0.50}, {"s": "France Suisse", "t": 1997.5, "v": 0.53}, {"s": "France Suisse", "t": 1997.7, "v": 0.55}, {"s": "France Suisse", "t": 1997.9, "v": 0.58}, {"s": "France Suisse", "t": 1998.1, "v": 0.62}, {"s": "France Suisse", "t": 1998.3, "v": 0.58}, {"s": "France Suisse", "t": 1998.5, "v": 0.50}, {"s": "France Suisse", "t": 1998.7, "v": 0.60}, {"s": "France Suisse", "t": 1998.9, "v": 0.70}, {"s": "France Suisse", "t": 1999.05, "v": 0.65}, {"s": "France Suisse", "t": 1999.2, "v": 0.55}, {"s": "France Suisse", "t": 1999.4, "v": 0.52}, {"s": "France Suisse", "t": 1999.6, "v": 0.55}, {"s": "France Suisse", "t": 1999.8, "v": 0.52}, {"s": "France Suisse", "t": 2000.0, "v": 0.55}, {"s": "France Suisse", "t": 2000.2, "v": 0.52}, {"s": "France Suisse", "t": 2000.4, "v": 0.50}, {"s": "France Suisse", "t": 2000.6, "v": 0.53}, {"s": "France Suisse", "t": 2000.8, "v": 0.50}, {"s": "France Suisse", "t": 2001.0, "v": 0.45}, {"s": "France Suisse", "t": 2001.2, "v": 0.42}, {"s": "France Suisse", "t": 2001.4, "v": 0.50}, {"s": "France Suisse", "t": 2001.6, "v": 0.58}, {"s": "France Suisse", "t": 2001.75, "v": 0.55}, {"s": "France Suisse", "t": 2001.9, "v": 0.67}, {"s": "France Suisse", "t": 2002.05, "v": 0.58}, {"s": "France Suisse", "t": 2002.2, "v": 0.45}, {"s": "France Suisse", "t": 2002.35, "v": 0.27}, {"s": "France Suisse", "t": 2002.5, "v": 0.35}, {"s": "France Suisse", "t": 2002.65, "v": 0.55}, {"s": "France Suisse", "t": 2002.8, "v": 0.58}, {"s": "France Suisse", "t": 2003.0, "v": 0.52}, {"s": "France Suisse", "t": 2003.2, "v": 0.50}, {"s": "France Suisse", "t": 2003.4, "v": 0.53}, {"s": "France Suisse", "t": 2003.55, "v": 0.45}, {"s": "France Suisse", "t": 2003.65, "v": 0.30}, {"s": "France Suisse", "t": 2003.75, "v": 0.203}, {"s": "France Suisse", "t": 2003.85, "v": 0.27}, {"s": "France Suisse", "t": 2004.0, "v": 0.28}, {"s": "France Suisse", "t": 2004.2, "v": 0.25}, {"s": "France Suisse", "t": 2004.35, "v": 0.30}, {"s": "France Suisse", "t": 2004.5, "v": 0.33}, {"s": "France Suisse", "t": 2004.7, "v": 0.34}, {"s": "France Suisse", "t": 2004.9, "v": 0.35}, {"s": "France Suisse", "t": 2005.1, "v": 0.34}, {"s": "France Suisse", "t": 2005.3, "v": 0.33}, {"s": "France Suisse", "t": 2005.5, "v": 0.32}, {"s": "France Suisse", "t": 2005.7, "v": 0.28}, {"s": "France Suisse", "t": 2005.9, "v": 0.33}, {"s": "France Suisse", "t": 2006.1, "v": 0.34}, {"s": "France Suisse", "t": 2006.3, "v": 0.30}, {"s": "France Suisse", "t": 2006.5, "v": 0.29}, {"s": "France Suisse", "t": 2006.65, "v": 0.31}, {"s": "France Suisse", "t": 2006.8, "v": 0.36}, {"s": "France Suisse", "t": 2007.02, "v": 0.27}
    ],
    "top": [{"b": 1}]
  },
  "layer": [
    {
      "data": {"name": "s"},
      "mark": {"type": "line", "color": "#111", "strokeWidth": 1.4, "strokeJoin": "round"},
      "encoding": {
        "x": {
          "field": "t", "type": "quantitative",
          "scale": {"domain": [1985, 2007.87], "nice": false, "zero": false},
          "axis": {
            "title": null,
            "values": [1985,1985.25,1985.5,1985.75,1986,1986.25,1986.5,1986.75,1987,1987.25,1987.5,1987.75,1988,1988.25,1988.5,1988.75,1989,1989.25,1989.5,1989.75,1990,1990.25,1990.5,1990.75,1991,1991.25,1991.5,1991.75,1992,1992.25,1992.5,1992.75,1993,1993.25,1993.5,1993.75,1994,1994.25,1994.5,1994.75,1995,1995.25,1995.5,1995.75,1996,1996.25,1996.5,1996.75,1997,1997.25,1997.5,1997.75,1998,1998.25,1998.5,1998.75,1999,1999.25,1999.5,1999.75,2000,2000.25,2000.5,2000.75,2001,2001.25,2001.5,2001.75,2002,2002.25,2002.5,2002.75,2003,2003.25,2003.5,2003.75,2004,2004.25,2004.5,2004.75,2005,2005.25,2005.5,2005.75,2006,2006.25,2006.5,2006.75,2007,2007.25,2007.5,2007.75],
            "labelExpr": "datum.value % 1 === 0 ? substring(toString(datum.value), 2, 4) : ''",
            "labelOverlap": false,
            "labelFlush": false,
            "labelFontSize": 13,
            "labelPadding": 11,
            "tickSize": -4,
            "tickWidth": 1,
            "domainWidth": 1.5,
            "grid": true,
            "gridColor": "#c8c8c8",
            "gridWidth": 1.2,
            "gridOpacity": {"condition": {"test": "datum.value % 1 === 0 && datum.value > 1985", "value": 1}, "value": 0}
          }
        },
        "y": {
          "field": "v", "type": "quantitative",
          "scale": {"domain": [-0.2, 1.0], "nice": false, "zero": false},
          "axis": {
            "title": null,
            "values": [-0.2, 0, 0.2, 0.4, 0.6, 0.8, 1.0],
            "format": ".1f",
            "grid": false,
            "labelFontSize": 13,
            "labelPadding": 2,
            "tickSize": 6,
            "domainWidth": 1.5
          }
        },
        "strokeDash": {
          "field": "s", "type": "nominal",
          "scale": {
            "domain": ["France Suisse", "Allemagne Suisse", "Royaume-Uni Allemagne", "Allemagne France", "Royaume-Uni France", "Royaume-Uni Suisse"],
            "range": [[1, 0], [8, 3], [7, 3], [4, 2], [10, 2, 3, 2], [14, 2]]
          },
          "legend": {
            "title": null,
            "orient": "none",
            "legendX": 2,
            "legendY": 281,
            "columns": 2,
            "columnPadding": 3,
            "rowPadding": 8,
            "padding": 0,
            "symbolType": "M0,0H8",
            "symbolSize": 90.25,
            "symbolStrokeWidth": 1.3,
            "symbolStrokeColor": "#111",
            "labelFont": "Liberation Sans",
            "labelFontSize": 15,
            "labelColor": "#111",
            "labelOffset": 35,
            "labelLimit": 300
          }
        }
      }
    },
    {
      "data": {"name": "top"},
      "mark": {"type": "rule", "color": "#222", "strokeWidth": 1.5},
      "encoding": {"y": {"datum": 1.0, "type": "quantitative"}}
    }
  ]
}
